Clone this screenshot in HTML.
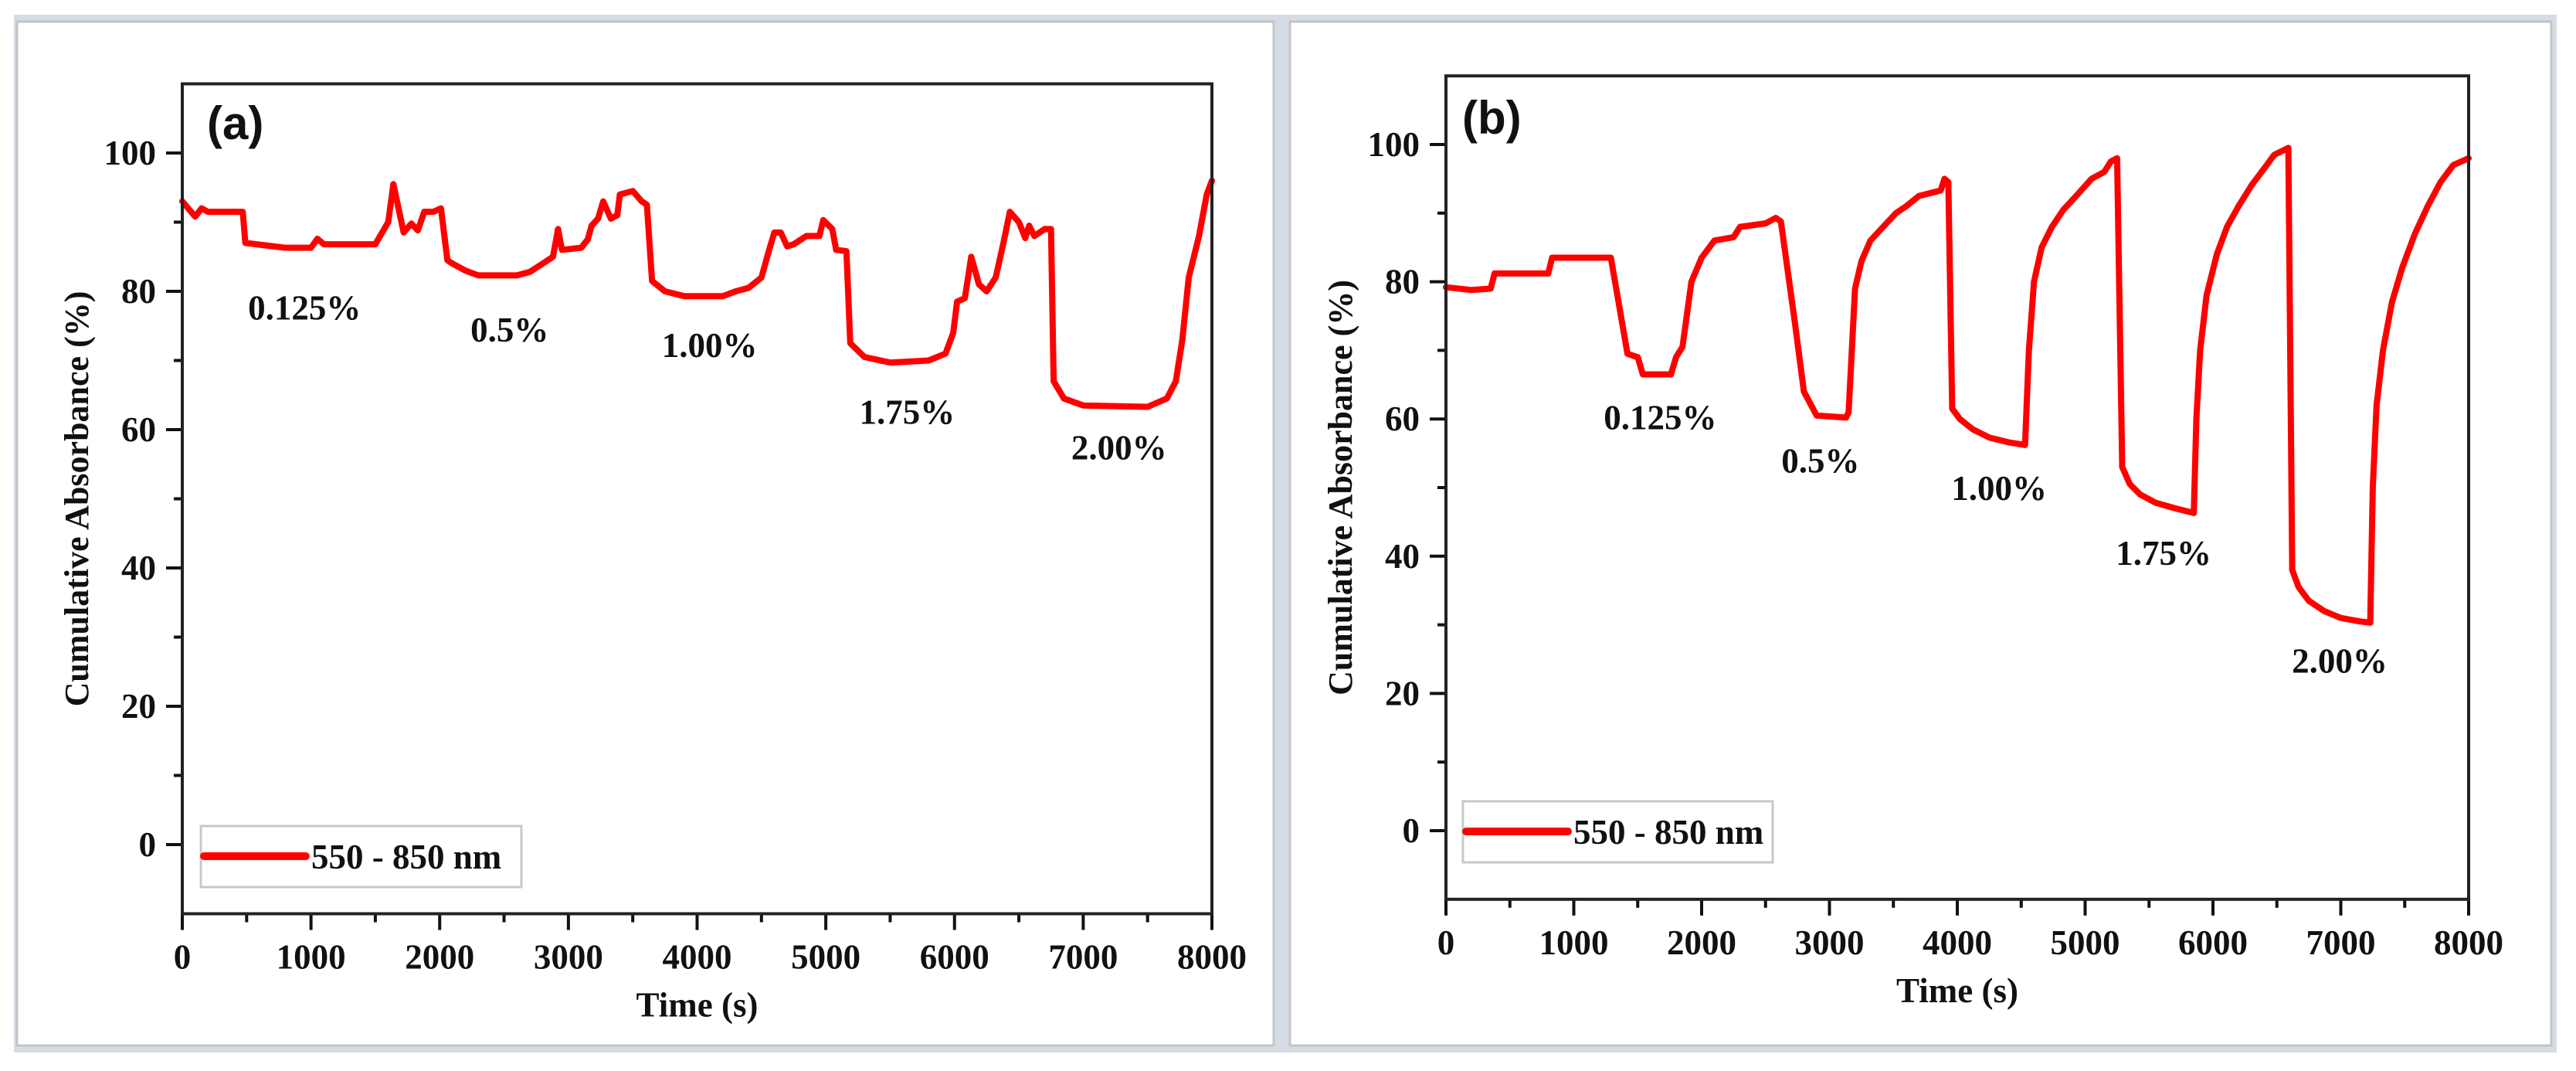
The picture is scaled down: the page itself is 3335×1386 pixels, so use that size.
<!DOCTYPE html>
<html><head><meta charset="utf-8"><style>
html,body{margin:0;padding:0;background:#fff;}
svg{display:block;}
text{font-family:"Liberation Serif",serif;font-weight:bold;fill:#111;}
</style></head><body>
<svg id="s" width="3335" height="1386" viewBox="0 0 3335 1386" xmlns="http://www.w3.org/2000/svg">
<rect x="18" y="19" width="3292" height="1343" fill="#d6dce6"/>
<rect x="22" y="28" width="1627" height="1325" fill="#fff" stroke="#c4c4c4" stroke-width="3"/>
<rect x="1670" y="28" width="1633" height="1325" fill="#fff" stroke="#c4c4c4" stroke-width="3"/>
<g id="ga"></g>
<g id="gb"></g>
</svg>
<script>
const xTicks=[0,1000,2000,3000,4000,5000,6000,7000,8000];
const yTicks=[0,20,40,60,80,100];
const aTime=[0,100,150,200,470,490,800,1000,1050,1100,1500,1600,1640,1720,1780,1830,1880,1950,2010,2060,2100,2200,2300,2600,2700,2800,2880,2920,2950,3100,3150,3180,3230,3270,3330,3380,3400,3500,3570,3610,3650,3750,3900,4200,4300,4400,4500,4560,4600,4650,4700,4750,4850,4950,4980,5050,5080,5160,5190,5300,5500,5800,5930,5990,6020,6080,6130,6190,6250,6320,6380,6430,6500,6550,6580,6620,6700,6750,6770,6850,7000,7500,7650,7720,7770,7820,7900,7960,8000];
const aAbs=[93,90.8,92,91.5,91.5,87,86.3,86.3,87.6,86.8,86.8,90,95.5,88.5,89.8,88.8,91.5,91.5,92,84.5,84,83,82.3,82.3,82.8,84,85,89,86,86.3,87.5,89.5,90.5,93,90.5,91,94,94.5,93,92.5,81.5,80,79.3,79.3,80,80.5,82,86,88.5,88.5,86.5,86.8,88,88,90.3,89,86,85.8,72.5,70.5,69.7,70,71,74,78.5,79,85,81,80,82,87,91.5,90,87.7,89.5,88,89,89,67,64.5,63.5,63.3,64.5,67,73,82,88,94,96];
const bTime=[0,200,350,380,800,830,1290,1420,1500,1540,1760,1800,1850,1920,2000,2100,2250,2300,2500,2580,2620,2730,2800,2900,3130,3150,3200,3250,3320,3420,3520,3600,3700,3870,3900,3930,3960,4020,4120,4250,4400,4500,4530,4560,4600,4660,4740,4830,4930,5050,5150,5200,5250,5290,5350,5430,5550,5700,5850,5870,5900,5950,6030,6110,6200,6300,6400,6480,6590,6620,6670,6750,6870,7000,7150,7230,7250,7280,7330,7400,7480,7580,7680,7780,7880,8000];
const bAbs=[79.2,78.8,79,81.2,81.2,83.5,83.5,69.5,69,66.5,66.5,69,70.5,80,83.5,86,86.5,88,88.5,89.3,88.8,74,64,60.5,60.2,61,79,83,86,88,90,91,92.5,93.3,95,94.5,61.5,60,58.5,57.3,56.6,56.3,56.2,70,80,85,88,90.5,92.5,95,96,97.5,98,53,50.5,49,47.8,47,46.3,60,70,78,84,88,91,94,96.5,98.5,99.5,38,35.5,33.5,32,31,30.5,30.3,50,62,70,77,82,87,91,94.5,97,98];
const aLabels=["0.125%","0.5%","1.00%","1.75%","2.00%"];
const aLabX=[950,2543,4097,5632,7278];
const aLabY=[77.6,74.4,72.2,62.5,57.4];
const bLabX=[1676,2930,4327,5614,6991];
const bLabY=[60.2,53.9,49.9,40.4,24.7];
const NS="http://www.w3.org/2000/svg";
function mk(p,tag,at,txt){const e=document.createElementNS(NS,tag);for(const k in at)e.setAttribute(k,at[k]);if(txt!==undefined)e.textContent=txt;p.appendChild(e);return e;}
function chart(g,cfg,T,V,lx,ly,tag){
  const X=t=>cfg.x0+(t/8000)*(cfg.x1-cfg.x0);
  const Y=v=>cfg.y0+(v/100)*(cfg.y100-cfg.y0);
  const yTop=Y(110),yBot=Y(-10);
  for(let t=0;t<=8000;t+=500){const maj=t%1000===0;
    const l=mk(g,'line',{x1:X(t),x2:X(t),y1:yBot,y2:yBot+(maj?21:11),stroke:'#111','stroke-width':4});
    
    }
  for(let v=-10;v<=110;v+=10){if(v===-10||v===110)continue;const maj=v%20===0;
    const l=mk(g,'line',{x1:cfg.x0-(maj?21:11),x2:cfg.x0,y1:Y(v),y2:Y(v),stroke:'#111','stroke-width':4});
    
    }
  xTicks.forEach(t=>{const e=mk(g,'text',{x:X(t),y:yBot+71,'text-anchor':'middle','font-size':45},String(t));
    
    });
  yTicks.forEach(v=>{const e=mk(g,'text',{x:cfg.x0-34,y:Y(v)+15,'text-anchor':'end','font-size':45},String(v));
    
    });
  const xt=mk(g,'text',{x:(cfg.x0+cfg.x1)/2,y:yBot+133,'text-anchor':'middle','font-size':45},'Time (s)');
  
  
  const yx=cfg.x0-122,yc=Y(50);
  const yt=mk(g,'text',{x:yx,y:yc,'text-anchor':'middle','font-size':44,transform:`rotate(-90 ${yx} ${yc})`},'Cumulative Absorbance (%)');
  
  
  let d='';T.forEach((t,i)=>{d+=(i?'L':'M')+X(t).toFixed(1)+' '+Y(V[i]).toFixed(1);});
  const p=mk(g,'path',{d:d,fill:'none',stroke:'#ff0000','stroke-width':8,'stroke-linejoin':'round','stroke-linecap':'round'});
  
  
  const ax=mk(g,'rect',{x:cfg.x0,y:yTop,width:cfg.x1-cfg.x0,height:yBot-yTop,fill:'none',stroke:'#222','stroke-width':4});
  
  
  aLabels.forEach((s,i)=>{const e=mk(g,'text',{x:X(lx[i]),y:Y(ly[i])+15,'text-anchor':'middle','font-size':45},s);
    
    });
  const pt=mk(g,'text',{x:cfg.tagX,y:cfg.tagY,'font-size':60,style:'font-family:"Liberation Sans",sans-serif'},tag);
  
  
  const lg=mk(g,'g',{});
  
  
  mk(lg,'rect',{x:cfg.lgX,y:cfg.lgY,width:cfg.lgW,height:79,fill:'#fff',stroke:'#c8c8c8','stroke-width':3});
  mk(lg,'line',{x1:cfg.lgX+4,x2:cfg.lgX+136,y1:cfg.lgY+39,y2:cfg.lgY+39,stroke:'#ff0000','stroke-width':10,'stroke-linecap':'round'});
  mk(lg,'text',{x:cfg.lgX+143,y:cfg.lgY+55,'font-size':45},'550 - 850 nm');
}
chart(document.getElementById('ga'),{x0:236,x1:1569,y0:1093,y100:198,tagX:268,tagY:180,lgX:260,lgY:1069,lgW:415},aTime,aAbs,aLabX,aLabY,'(a)');
chart(document.getElementById('gb'),{x0:1872,x1:3196,y0:1075,y100:187,tagX:1893,tagY:173,lgX:1894,lgY:1037,lgW:401},bTime,bAbs,bLabX,bLabY,'(b)');
</script>
</body></html>
